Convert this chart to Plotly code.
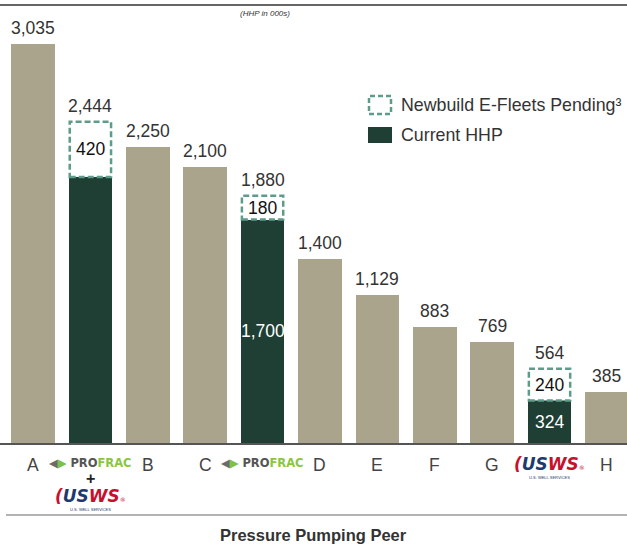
import plotly.graph_objects as go

# Peer fleet capacity (HHP in 000s)
peers = ["A", "ProFrac + USWS", "B", "C", "ProFrac", "D", "E", "F", "G", "USWS", "H"]
current_hhp = [3035, 2024, 2250, 2100, 1700, 1400, 1129, 883, 769, 324, 385]
pending_hhp = [0, 420, 0, 0, 180, 0, 0, 0, 0, 240, 0]
is_profrac = [False, True, False, False, True, False, False, False, False, True, False]
label_current = [False, False, False, False, True, False, False, False, False, True, False]
tick_letters = ["A", "", "B", "C", "", "D", "E", "F", "G", "", "H"]

TAN = "#A9A48B"
DARK = "#1F3F34"
DASH = "#5E9C8A"
TEXT = "#333333"
FONT = "Liberation Sans, Arial, sans-serif"

W, H = 627, 546
TOP, BOTTOM = 5, 443          # plot area in pixels
BAR_W = 0.76

totals = [c + p for c, p in zip(current_hhp, pending_hhp)]
xs = list(range(len(peers)))


def py(y_px):
    """Pixel row -> paper y coordinate."""
    return (BOTTOM - y_px) / (BOTTOM - TOP)


def px(x_px):
    return x_px / W


fig = go.Figure()
fig.add_trace(go.Bar(
    x=xs, y=current_hhp, width=BAR_W,
    marker=dict(color=[DARK if f else TAN for f in is_profrac], line=dict(width=0)),
    hoverinfo="skip", showlegend=False,
))

annotations = []
shapes = []


def note(**kw):
    kw.setdefault("showarrow", False)
    kw.setdefault("xanchor", "center")
    kw.setdefault("yanchor", "middle")
    kw.setdefault("borderpad", 0)
    annotations.append(kw)


for i, (c, p, t) in enumerate(zip(current_hhp, pending_hhp, totals)):
    # total value above each bar
    note(x=i, y=t, xref="x", yref="y", text=f"{t:,}", yanchor="bottom", yshift=5,
         font=dict(size=17.5, color=TEXT, family=FONT))
    if p:
        shapes.append(dict(
            type="rect", xref="x", yref="y",
            x0=i - BAR_W / 2 + 0.02, x1=i + BAR_W / 2 - 0.02, y0=c, y1=t,
            line=dict(color=DASH, width=2.5, dash="6px,3px"), fillcolor="white"))
        note(x=i, y=c + p / 2, xref="x", yref="y", text=f"{p:,}",
             font=dict(size=17.5, color="#111111", family=FONT))
    if label_current[i]:
        note(x=i, y=c / 2, xref="x", yref="y", text=f"{c:,}",
             font=dict(size=17.5, color="white", family=FONT))
    if tick_letters[i]:
        note(x=i, y=py(465), xref="x", yref="paper", text=tick_letters[i],
             font=dict(size=17.5, color="#444444", family=FONT))

# company wordmarks under the ProFrac-related bars
profrac_mark = ("<span style='color:#6b6b6b'>◀</span><span style='color:#7cc142'>▶</span> "
                "<b><span style='color:#555555'>PRO</span><span style='color:#8cc63f'>FRAC</span></b>")
usws_mark = ("<b><i><span style='color:#c8102e'>(</span><span style='color:#1d3a6e'>US</span>"
             "<span style='color:#c8102e'>WS</span></i></b><span style='color:#c8102e; font-size:6px'>®</span>")
usws_sub = "U.S. WELL SERVICES"

for i in (1, 4):
    note(x=i, y=py(463), xref="x", yref="paper", text=profrac_mark,
         font=dict(size=11.5, family="DejaVu Sans, sans-serif"))
note(x=1, y=py(479), xref="x", yref="paper", text="<b>+</b>",
     font=dict(size=16, color="#222222", family=FONT))
for i, yc in ((1, 496), (9, 464)):
    note(x=i, y=py(yc), xref="x", yref="paper", text=usws_mark,
         font=dict(size=17, family="DejaVu Sans, sans-serif"))
    note(x=i, y=py(yc + 13), xref="x", yref="paper", text=usws_sub,
         font=dict(size=4, color="#1d3a6e", family=FONT))

# unit note and axis title
note(x=px(265), y=py(13), xref="paper", yref="paper", text="<i>(HHP in 000s)</i>",
     font=dict(size=8, color=TEXT, family=FONT))
note(x=px(313), y=py(535), xref="paper", yref="paper", text="<b>Pressure Pumping Peer</b>",
     font=dict(size=16.5, color=TEXT, family=FONT))

# legend
shapes.append(dict(type="rect", xref="paper", yref="paper",
                   x0=px(369), x1=px(391), y0=py(114), y1=py(96),
                   line=dict(color=DASH, width=2.5, dash="5px,3px"), fillcolor="white"))
shapes.append(dict(type="rect", xref="paper", yref="paper",
                   x0=px(368), x1=px(392), y0=py(143), y1=py(127),
                   line=dict(width=0), fillcolor=DARK))
note(x=px(400), y=py(105), xref="paper", yref="paper", xanchor="left",
     text="Newbuild E-Fleets Pending³", font=dict(size=17.8, color=TEXT, family=FONT))
note(x=px(400), y=py(135), xref="paper", yref="paper", xanchor="left",
     text="Current HHP", font=dict(size=17.8, color=TEXT, family=FONT))

# frame rules
shapes.append(dict(type="line", xref="paper", yref="paper", x0=0, x1=1,
                   y0=py(5), y1=py(5), line=dict(color="#666666", width=2)))
shapes.append(dict(type="line", xref="paper", yref="paper", x0=px(6), x1=1,
                   y0=py(515), y1=py(515), line=dict(color="#9a9a9a", width=1.5)))

scale = (BOTTOM - 44) / 3035.0
fig.update_layout(
    width=W, height=H,
    margin=dict(l=0, r=0, t=TOP, b=H - BOTTOM, pad=0),
    paper_bgcolor="white", plot_bgcolor="white",
    xaxis=dict(range=[-0.575, 10.35], showticklabels=False, ticks="", showgrid=False,
               zeroline=False, showline=True, linecolor="#555555", linewidth=2),
    yaxis=dict(range=[0, (BOTTOM - TOP) / scale], visible=False, showgrid=False),
    bargap=0, showlegend=False,
    shapes=shapes, annotations=annotations,
)

fig.write_html("out.html")
